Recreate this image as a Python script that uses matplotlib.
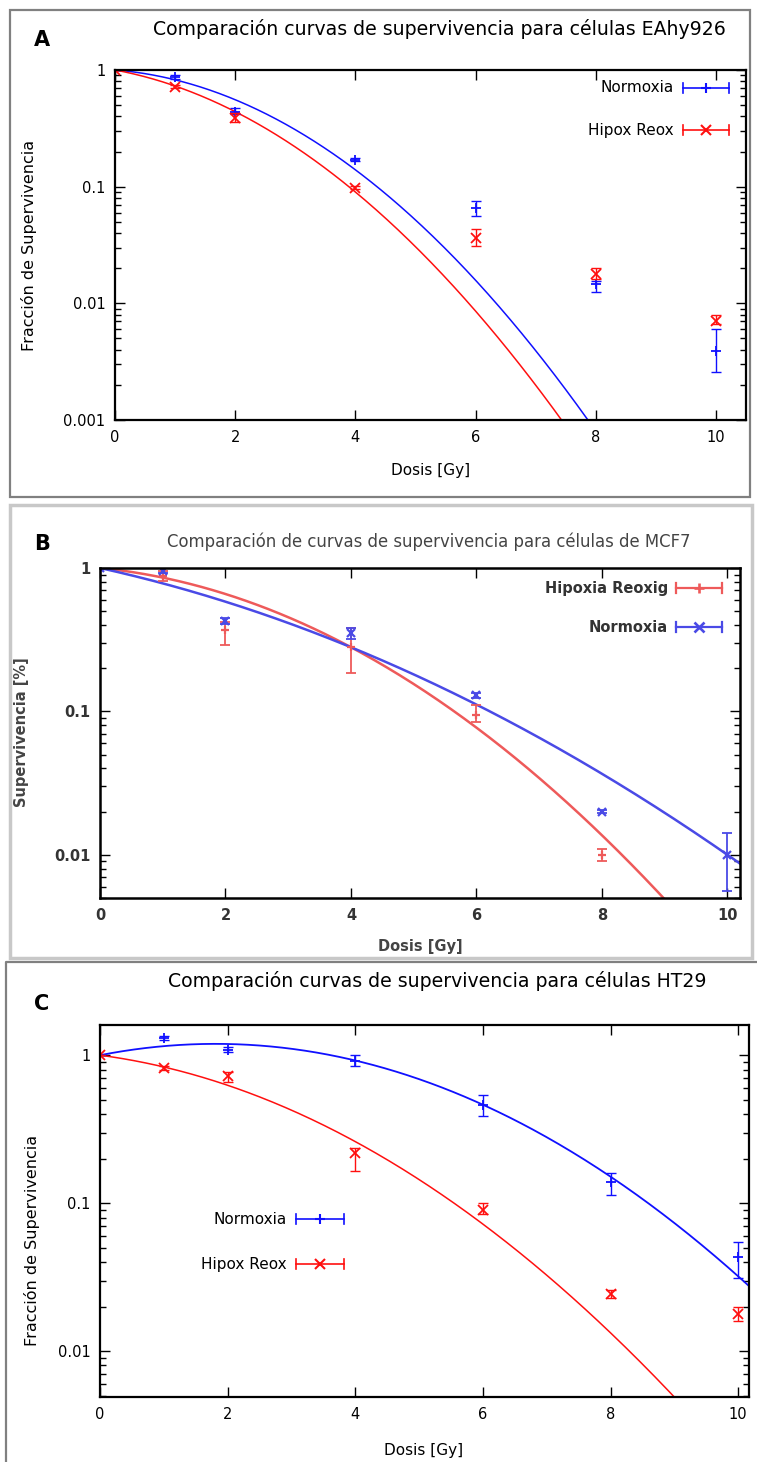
import matplotlib

matplotlib.use("Agg")
import matplotlib.pyplot as plt
import numpy as np
from matplotlib.lines import Line2D
from matplotlib.patches import Rectangle
from matplotlib.ticker import LogLocator, NullFormatter

plt.rcParams["font.family"] = ["DejaVu Sans"]

W, H = 757, 1462

# ===== Panel A: EAhy926 =====
dose_a = [0, 1, 2, 4, 6, 8, 10]
norm_a = [1.0, 0.87, 0.44, 0.17, 0.065, 0.0146, 0.0039]
norm_a_lo = [1.0, 0.84, 0.42, 0.165, 0.056, 0.0126, 0.0026]
norm_a_hi = [1.0, 0.90, 0.47, 0.175, 0.076, 0.0156, 0.0060]
hyp_a = [1.0, 0.72, 0.39, 0.098, 0.036, 0.0178, 0.0071]
hyp_a_lo = [1.0, 0.70, 0.36, 0.095, 0.031, 0.0161, 0.0066]
hyp_a_hi = [1.0, 0.74, 0.43, 0.101, 0.043, 0.0202, 0.0079]
# ajuste LQ: S = exp(-a*D - b*D^2)
fit_norm_a = (0.094, 0.0996)
fit_hyp_a = (0.220, 0.0955)

# ===== Panel B: MCF7 =====
dose_b_hyp = [0, 1, 2, 4, 6, 8]
hyp_b = [1.0, 0.88, 0.37, 0.28, 0.095, 0.0100]
hyp_b_lo = [1.0, 0.81, 0.29, 0.185, 0.085, 0.0090]
hyp_b_hi = [1.0, 0.95, 0.42, 0.38, 0.110, 0.0109]
dose_b_norm = [0, 1, 2, 4, 6, 8, 10]
norm_b = [1.0, 0.96, 0.43, 0.35, 0.13, 0.020, 0.010]
norm_b_lo = [1.0, 0.92, 0.41, 0.32, 0.125, 0.0195, 0.0056]
norm_b_hi = [1.0, 1.0, 0.45, 0.38, 0.135, 0.0205, 0.0143]
fit_hyp_b = (0.0996, 0.0546)
fit_norm_b = (0.223, 0.02375)

# ===== Panel C: HT29 =====
dose_c = [0, 1, 2, 4, 6, 8, 10]
norm_c = [1.0, 1.30, 1.09, 0.92, 0.46, 0.14, 0.043]
norm_c_lo = [1.0, 1.26, 1.05, 0.85, 0.39, 0.114, 0.031]
norm_c_hi = [1.0, 1.34, 1.13, 1.00, 0.54, 0.16, 0.055]
hyp_c = [1.0, 0.82, 0.72, 0.22, 0.090, 0.0243, 0.0178]
hyp_c_lo = [1.0, 0.79, 0.66, 0.164, 0.084, 0.0229, 0.0161]
hyp_c_hi = [1.0, 0.85, 0.77, 0.235, 0.100, 0.0258, 0.0199]
fit_norm_c = (-0.195, 0.0539)
fit_hyp_c = (0.132, 0.051)

BLUE = "#1010ff"
RED = "#ff1010"
BLUE_B = "#4a4ae6"
RED_B = "#ee5a5a"


def fx(px):
    return px / W


def fy(py):
    return 1 - py / H


def add_axes(fig, left, right, top, bottom):
    return fig.add_axes([fx(left), fy(bottom), (right - left) / W, (bottom - top) / H])


def lq(params, d):
    a, b = params
    return np.exp(-a * d - b * d ** 2)


def style_axes(ax, xmax, ymin, ymax, yticks, ylabels, fs=10.5, color="black", lw=1.6):
    ax.set_yscale("log")
    ax.set_xlim(0, xmax)
    ax.set_ylim(ymin, ymax)
    ax.set_xticks([0, 2, 4, 6, 8, 10])
    ax.set_yticks(yticks)
    ax.set_yticklabels(ylabels)
    ax.yaxis.set_minor_locator(LogLocator(base=10, subs=range(2, 10)))
    ax.yaxis.set_minor_formatter(NullFormatter())
    ax.tick_params(which="both", direction="in", top=True, right=True,
                   labelsize=fs, labelcolor=color, width=1.0)
    ax.tick_params(which="major", length=7, pad=7)
    ax.tick_params(which="minor", length=4)
    for s in ax.spines.values():
        s.set_linewidth(lw)
    ax.patch.set_alpha(0)


def errbars(ax, d, v, lo, hi, color, marker, lw=1.0, ms=7):
    v = np.array(v)
    yerr = [v - np.array(lo), np.array(hi) - v]
    ax.errorbar(d, v, yerr=yerr, fmt="none", ecolor=color, elinewidth=lw,
                capsize=3.5, capthick=lw)
    ax.plot(d, v, linestyle="none", marker=marker, color=color, ms=ms, mew=lw + 0.3)


def key(fig, label, xr, x0, x1, y, color, marker, fs=11, lw=1.2, tcolor="black", weight="normal"):
    fig.text(fx(xr), fy(y), label, ha="right", va="center", fontsize=fs, color=tcolor,
             weight=weight)
    xs = [fx(x0), fx(x1)]
    fig.add_artist(Line2D(xs, [fy(y), fy(y)], color=color, lw=lw, transform=fig.transFigure))
    for xc in xs:
        fig.add_artist(Line2D([xc, xc], [fy(y - 5), fy(y + 5)], color=color, lw=lw,
                              transform=fig.transFigure))
    fig.add_artist(Line2D([fx((x0 + x1) / 2)], [fy(y)], marker=marker, color=color, ms=7,
                          mew=lw + 0.3, transform=fig.transFigure))


fig = plt.figure(figsize=(W / 100, H / 100), dpi=100)

# ---------- A ----------
fig.add_artist(Rectangle((fx(10), fy(497)), fx(740), (497 - 10) / H, fill=False,
                         edgecolor="#808080", lw=1.6, transform=fig.transFigure))
ax = add_axes(fig, 115, 746, 70, 420)
style_axes(ax, 10.5, 0.001, 1, [0.001, 0.01, 0.1, 1], ["0.001", "0.01", "0.1", "1"])
xx = np.linspace(0, 10.5, 400)
ax.plot(xx, lq(fit_norm_a, xx), color=BLUE, lw=1.1)
ax.plot(xx, lq(fit_hyp_a, xx), color=RED, lw=1.1)
errbars(ax, dose_a, norm_a, norm_a_lo, norm_a_hi, BLUE, "+")
errbars(ax, dose_a, hyp_a, hyp_a_lo, hyp_a_hi, RED, "x")
fig.text(fx(439), fy(29), "Comparación curvas de supervivencia para células EAhy926",
         ha="center", va="center", fontsize=13.6)
fig.text(fx(42), fy(40), "A", ha="center", va="center", fontsize=15, weight="bold")
fig.text(fx(29), fy(245), "Fracción de Supervivencia", ha="center", va="center",
         fontsize=11.5, rotation=90)
fig.text(fx(431), fy(470), "Dosis [Gy]", ha="center", va="center", fontsize=11)
key(fig, "Normoxia", 674, 683, 729, 88, BLUE, "+")
key(fig, "Hipox Reox", 674, 683, 729, 130, RED, "x")

# ---------- B ----------
fig.add_artist(Rectangle((fx(10), fy(958)), fx(742), (958 - 505) / H, fill=False,
                         edgecolor="#c8c8c8", lw=2.5, transform=fig.transFigure))
ax = add_axes(fig, 100, 740, 568, 898)
style_axes(ax, 10.2, 0.005, 1, [0.01, 0.1, 1], ["0.01", "0.1", "1"], fs=10.5,
           color="#333333", lw=1.8)
for lab in ax.get_xticklabels() + ax.get_yticklabels():
    lab.set_fontweight("bold")
xx = np.linspace(0, 10.2, 400)
ax.plot(xx, lq(fit_hyp_b, xx), color=RED_B, lw=1.8)
ax.plot(xx, lq(fit_norm_b, xx), color=BLUE_B, lw=1.8)
errbars(ax, dose_b_hyp, hyp_b, hyp_b_lo, hyp_b_hi, RED_B, "+", lw=1.3, ms=6)
errbars(ax, dose_b_norm, norm_b, norm_b_lo, norm_b_hi, BLUE_B, "x", lw=1.3, ms=6)
fig.text(fx(429), fy(542), "Comparación de curvas de supervivencia para células de MCF7",
         ha="center", va="center", fontsize=11.9, color="#444444")
fig.text(fx(42), fy(544), "B", ha="center", va="center", fontsize=15, weight="bold")
fig.text(fx(22), fy(732), "Supervivencia [%]", ha="center", va="center", fontsize=10.5,
         rotation=90, color="#444444", weight="bold")
fig.text(fx(420), fy(946), "Dosis [Gy]", ha="center", va="center", fontsize=10.5,
         color="#444444", weight="bold")
key(fig, "Hipoxia Reoxig", 668, 676, 722, 588, RED_B, "+", fs=10.5, lw=1.6,
    tcolor="#333333", weight="bold")
key(fig, "Normoxia", 668, 676, 722, 627, BLUE_B, "x", fs=10.5, lw=1.6,
    tcolor="#333333", weight="bold")

# ---------- C ----------
fig.add_artist(Line2D([fx(6), fx(6), fx(757)], [fy(1462), fy(962), fy(962)],
                      color="#808080", lw=1.6, transform=fig.transFigure))
ax = add_axes(fig, 100, 749, 1025, 1397)
style_axes(ax, 10.17, 0.0049, 1.6, [0.01, 0.1, 1], ["0.01", "0.1", "1"])
xx = np.linspace(0, 10.17, 400)
ax.plot(xx, lq(fit_norm_c, xx), color=BLUE, lw=1.3)
ax.plot(xx, lq(fit_hyp_c, xx), color=RED, lw=1.1)
errbars(ax, dose_c, norm_c, norm_c_lo, norm_c_hi, BLUE, "+")
errbars(ax, dose_c, hyp_c, hyp_c_lo, hyp_c_hi, RED, "x")
fig.text(fx(437), fy(981), "Comparación curvas de supervivencia para células HT29",
         ha="center", va="center", fontsize=13.6)
fig.text(fx(42), fy(1004), "C", ha="center", va="center", fontsize=15, weight="bold")
fig.text(fx(32), fy(1240), "Fracción de Supervivencia", ha="center", va="center",
         fontsize=11.5, rotation=90)
fig.text(fx(424), fy(1450), "Dosis [Gy]", ha="center", va="center", fontsize=11)
key(fig, "Normoxia", 287, 296, 344, 1219, BLUE, "+")
key(fig, "Hipox Reox", 287, 296, 344, 1264, RED, "x")

fig.savefig("out.png", dpi=100)
